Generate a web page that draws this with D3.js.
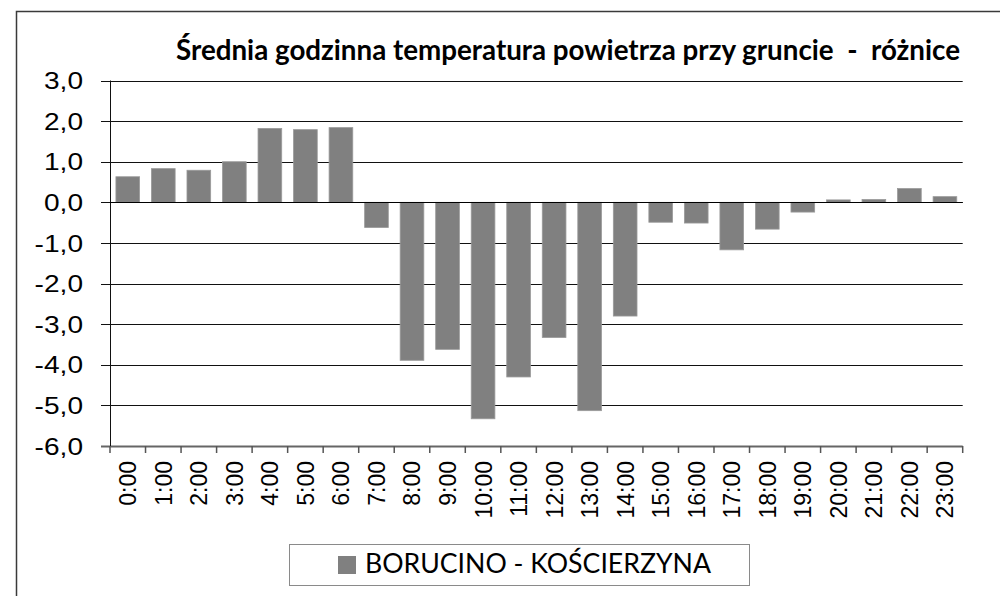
<!DOCTYPE html>
<html>
<head>
<meta charset="utf-8">
<script src="https://d3js.org/d3.v7.min.js"></script>
<style>
  body { margin: 0; background: #fff; }
</style>
</head>
<body>
<script>

// data
let hours = ["0:00","1:00","2:00","3:00","4:00","5:00","6:00","7:00","8:00","9:00","10:00","11:00",
             "12:00","13:00","14:00","15:00","16:00","17:00","18:00","19:00","20:00","21:00","22:00","23:00"];
let diffs = [0.63, 0.83, 0.79, 1.0, 1.82, 1.79, 1.84, -0.62, -3.89, -3.62, -5.33, -4.30,
             -3.33, -5.13, -2.80, -0.49, -0.51, -1.17, -0.66, -0.24, 0.06, 0.07, 0.34, 0.14];
let yTicks = [3, 2, 1, 0, -1, -2, -3, -4, -5, -6];
let title = "Średnia godzinna temperatura powietrza przy gruncie  -  różnice";
let seriesName = "BORUCINO - KOŚCIERZYNA";

let width = 1000, height = 596;
let pLeft = 110, pRight = 962.7, pTop = 80.5, pBottom = 446;
let barColor = "#808080";

var svg = d3.select("body").append("svg").attr("width", width).attr("height", height);

// outer frame (runs off the right and bottom edges)
svg.append("rect").attr("x", 16.5).attr("y", 11.5).attr("width", 1000).attr("height", 620)
  .attr("fill", "#fff").attr("stroke", "#3a3a3a").attr("stroke-width", 1.5);

var x = d3.scaleBand().domain(hours).range([pLeft, pRight]).paddingInner(1/3).paddingOuter(1/6);
var y = d3.scaleLinear().domain([-6, 3]).range([pBottom, pTop]);

// gridlines
svg.append("g").selectAll("line").data(yTicks).enter().append("line")
  .attr("x1", pLeft - 9).attr("x2", pRight)
  .attr("y1", d => Math.round(y(d)) + 0.5).attr("y2", d => Math.round(y(d)) + 0.5)
  .attr("stroke", d => d == -6 ? "#666" : "#111")
  .attr("stroke-width", d => d == -6 ? 2 : 1);

// y labels (the original picture is a bit stretched sideways)
svg.append("g").selectAll("text").data(yTicks).enter().append("text")
  .attr("transform", d => "translate(83," + (y(d) + 8.6) + ") scale(1.17,1)")
  .attr("text-anchor", "end")
  .style("font-family", "'Liberation Sans', Arial, sans-serif").style("font-size", "24px")
  .attr("fill", "#000")
  .text(d => d3.format(".1f")(d).replace(".", ",").replace("−", "-"));

// y axis line
svg.append("line").attr("x1", pLeft + 0.5).attr("x2", pLeft + 0.5).attr("y1", pTop).attr("y2", pBottom)
  .attr("stroke", "#111").attr("stroke-width", 1);

// bars
svg.append("g").selectAll("rect").data(diffs).enter().append("rect")
  .attr("x", (d, i) => x(hours[i]))
  .attr("width", x.bandwidth())
  .attr("y", d => y(Math.max(0, d)))
  .attr("height", d => Math.abs(y(d) - y(0)))
  .attr("fill", barColor)
  .attr("stroke", "#9a9a9a").attr("stroke-width", 0.8);

// zero line on top of bars
svg.append("line").attr("x1", pLeft).attr("x2", pRight)
  .attr("y1", Math.round(y(0)) + 0.5).attr("y2", Math.round(y(0)) + 0.5)
  .attr("stroke", "#000").attr("stroke-width", 1.2);

// x ticks at category boundaries
let step = x.step();
svg.append("g").selectAll("line").data(d3.range(hours.length + 1)).enter().append("line")
  .attr("x1", i => pLeft + i * step).attr("x2", i => pLeft + i * step)
  .attr("y1", pBottom).attr("y2", pBottom + 7)
  .attr("stroke", "#555").attr("stroke-width", 1.5);

// x labels rotated
svg.append("g").selectAll("text").data(hours).enter().append("text")
  .attr("transform", d => "translate(" + (x(d) + x.bandwidth() / 2 + 8.5) + "," + 461 + ") rotate(-90) scale(1,1.07)")
  .attr("text-anchor", "end")
  .style("font-family", "'Liberation Sans', Arial, sans-serif").style("font-size", "23px")
  .attr("fill", "#000")
  .text(d => d);

// title
svg.append("text").attr("x", 176).attr("y", 60)
  .style("font-family", "Lato, sans-serif").style("font-weight", "bold").style("font-size", "29px")
  .attr("fill", "#000")
  .style("white-space", "pre")
  .attr("textLength", 784).attr("lengthAdjust", "spacingAndGlyphs")
  .text(title);

// legend
svg.append("rect").attr("x", 289.5).attr("y", 544.5).attr("width", 460).attr("height", 41)
  .attr("fill", "#fff").attr("stroke", "#8a8a8a").attr("stroke-width", 1);
svg.append("rect").attr("x", 338).attr("y", 556).attr("width", 18).attr("height", 18).attr("fill", barColor);
svg.append("text").attr("x", 365).attr("y", 573)
  .style("font-family", "Lato, sans-serif").style("font-size", "27px")
  .attr("fill", "#000")
  .attr("textLength", 346).attr("lengthAdjust", "spacingAndGlyphs")
  .text(seriesName);

</script>
</body>
</html>
